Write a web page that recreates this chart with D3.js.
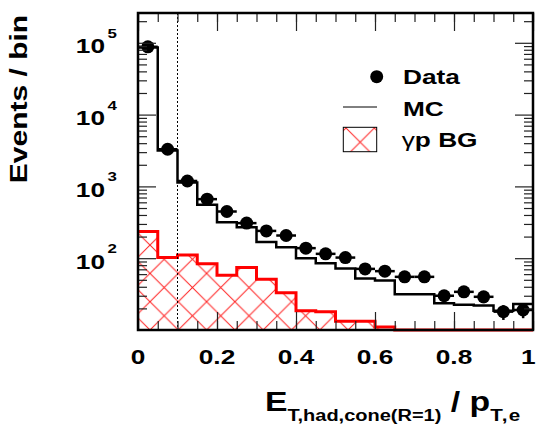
<!DOCTYPE html>
<html>
<head>
<meta charset="utf-8">
<script src="https://cdn.jsdelivr.net/npm/d3@7"></script>
<style>
  html, body { margin: 0; padding: 0; background: #fff; }
  svg { display: block; }
  text { font-family: "Liberation Sans", Arial, Helvetica, sans-serif; font-weight: bold; fill: #000; white-space: pre; }
</style>
</head>
<body>
<svg id="chart" width="536" height="427"></svg>
<script>
// Histogram bins (lower edges), width 0.05
const binLow = [0, 0.05, 0.1, 0.15, 0.2, 0.25, 0.3, 0.35, 0.4, 0.45,
                0.5, 0.55, 0.6, 0.65, 0.7, 0.75, 0.8, 0.85, 0.9, 0.95];
const binWidth = 0.05;

// Measured events per bin
const dataCounts = [88000, 3290, 1190, 664, 447, 308, 240, 207, 138, 115,
                    102, 71, 66, 55, 55, 30, 34, 29, 18, 19];
const dataErrors = [300, 57, 34, 26, 21, 18, 15.5, 14.4, 11.7, 10.7,
                    10.1, 8.4, 8.1, 7.4, 7.4, 5.5, 5.8, 5.4, 4.2, 4.4];
// Simulation (MC) prediction
const mcCounts = [86300, 3150, 1130, 555, 316, 270, 168, 142, 100, 85,
                  72, 52, 49, 31.5, 31.5, 23.5, 22.5, 22, 18.5, 23];
// Photoproduction background
const bgCounts = [235, 102, 111, 84, 58, 74, 51, 33, 18.5, 18,
                  13.2, 13.2, 11, 10, 10, 10, 10, 10, 10, 10];

const xTickValues = [0, 0.2, 0.4, 0.6, 0.8, 1];
const xTickLabels = ["0", "0.2", "0.4", "0.6", "0.8", "1"];
const yTickValues = [1e2, 1e3, 1e4, 1e5];
const yTickExponents = ["2", "3", "4", "5"];
const cutValue = 0.1;

const legendLabels = ["Data", "MC", "p BG"];

// ---- layout ----
const W = 536;
const L = 138, R = 533, T = 13, B = 330;
const SX = 1.25; // horizontal text stretch
const svg = d3.select("#chart");

const x = d3.scaleLinear().domain([0, 1]).range([L, R]);
const y = d3.scaleLog().domain([10, 2.6e5]).range([B, T]);

function label(parent, px, py, str, size, anchor) {
  return parent.append("text")
    .attr("transform", `translate(${px},${py}) scale(${SX},1)`)
    .attr("text-anchor", anchor || "start")
    .attr("font-size", size)
    .text(str);
}

// step outline of a histogram
function stepPoints(values) {
  const pts = [];
  values.forEach((v, i) => {
    pts.push([binLow[i], v]);
    pts.push([binLow[i] + binWidth, v]);
  });
  return pts;
}
const stepLine = d3.line().x(d => x(d[0])).y(d => y(Math.max(d[1], 10)));

// cross-hatch fill pattern
const defs = svg.append("defs");
function hatchPattern(id, ox, oy, d) {
  const p = defs.append("pattern").attr("id", id)
    .attr("patternUnits", "userSpaceOnUse")
    .attr("x", ox).attr("y", oy).attr("width", d).attr("height", d);
  p.append("path")
    .attr("d", `M0,0L${d},${d}M${d},0L0,${d}`)
    .attr("stroke", "#ff2020").attr("stroke-width", 1).attr("fill", "none");
}
hatchPattern("hatchMain", 150, 330, 28.3);
hatchPattern("hatchLegend", 346, 128, 28.3);

// ---- background histogram (hatched) ----
const bgPts = stepPoints(bgCounts);
const bgArea = d3.area().x(d => x(d[0])).y0(B).y1(d => y(Math.max(d[1], 10)));
svg.append("path").attr("d", bgArea(bgPts)).attr("fill", "url(#hatchMain)");
svg.append("path").attr("d", stepLine(bgPts))
  .attr("fill", "none").attr("stroke", "#ff0000").attr("stroke-width", 3);

// ---- cut position ----
svg.append("line")
  .attr("x1", x(cutValue)).attr("x2", x(cutValue))
  .attr("y1", T).attr("y2", B)
  .attr("stroke", "#000").attr("stroke-width", 1).attr("stroke-dasharray", "2,2");

// ---- MC histogram ----
svg.append("path").attr("d", stepLine(stepPoints(mcCounts)))
  .attr("fill", "none").attr("stroke", "#000").attr("stroke-width", 2.5);

// ---- data points ----
const pts = svg.append("g");
dataCounts.forEach((v, i) => {
  const cx = x(binLow[i] + binWidth / 2);
  pts.append("line")
    .attr("x1", x(binLow[i])).attr("x2", x(binLow[i] + binWidth))
    .attr("y1", y(v)).attr("y2", y(v))
    .attr("stroke", "#000").attr("stroke-width", 2.5);
  pts.append("line")
    .attr("x1", cx).attr("x2", cx)
    .attr("y1", y(v - dataErrors[i])).attr("y2", y(v + dataErrors[i]))
    .attr("stroke", "#000").attr("stroke-width", 2.5);
  pts.append("circle").attr("cx", cx).attr("cy", y(v)).attr("r", 6.5).attr("fill", "#000");
});

// ---- axes (inward ticks on all four sides) ----
const xMinor = d3.range(0, 1.0001, 0.05);
const yMinor = [];
for (let e = 1; e <= 5; e++) for (let m = 2; m <= 9; m++) {
  const v = m * Math.pow(10, e);
  if (v < 2.6e5) yMinor.push(v);
}
function axisGroup(axis, tx, ty) {
  const g = svg.append("g").attr("transform", `translate(${tx},${ty})`).call(axis);
  g.select(".domain").remove();
  g.selectAll(".tick line").attr("stroke", "#222").attr("stroke-width", 1.2);
  g.selectAll(".tick text").remove();
  return g;
}
axisGroup(d3.axisBottom(x).tickValues(xMinor).tickSize(-9), 0, B);
axisGroup(d3.axisBottom(x).tickValues(xTickValues).tickSize(-18), 0, B);
axisGroup(d3.axisTop(x).tickValues(xMinor).tickSize(-9), 0, T);
axisGroup(d3.axisTop(x).tickValues(xTickValues).tickSize(-18), 0, T);
axisGroup(d3.axisLeft(y).tickValues(yMinor).tickSize(-9), L, 0);
axisGroup(d3.axisLeft(y).tickValues(yTickValues).tickSize(-18), L, 0);
axisGroup(d3.axisRight(y).tickValues(yMinor).tickSize(-9), R, 0);
axisGroup(d3.axisRight(y).tickValues(yTickValues).tickSize(-18), R, 0);

// frame
svg.append("rect").attr("x", L).attr("y", T).attr("width", R - L).attr("height", B - T)
  .attr("fill", "none").attr("stroke", "#000").attr("stroke-width", 2.5);

// tick labels (kept inside the canvas at the right edge)
xTickValues.forEach((v, i) => {
  const t = label(svg, x(v), 364, xTickLabels[i], 21, "middle");
  const half = t.node().getBBox().width * SX / 2;
  const px = Math.min(x(v), W - 0.5 - half);
  t.attr("transform", `translate(${px},364) scale(${SX},1)`);
});
yTickValues.forEach((v, i) => {
  label(svg, 105, y(v) + 10.5, "10", 21, "end");
  label(svg, 107.5, y(v) - 5, yTickExponents[i], 13.5, "start");
});

// axis titles
svg.append("text")
  .attr("transform", `translate(27,99) rotate(-90) scale(${SX},1)`)
  .attr("text-anchor", "middle").attr("font-size", 24)
  .text("Events / bin");

const xt = svg.append("text")
  .attr("transform", `translate(265,411) scale(${SX},1)`)
  .attr("font-size", 27);
xt.append("tspan").text("E");
xt.append("tspan").attr("font-size", 16).attr("dy", 9.5).text("T,had,cone(R=1)");
xt.append("tspan").attr("font-size", 27).attr("dy", -9.5).text(" / p");
xt.append("tspan").attr("font-size", 16.5).attr("dy", 9.5).attr("letter-spacing", 1).text("T,e");

// ---- legend ----
const lg = svg.append("g");
lg.append("circle").attr("cx", 376.7).attr("cy", 76.7).attr("r", 6.5).attr("fill", "#000");
label(lg, 403, 84, legendLabels[0], 21, "start");
lg.append("line").attr("x1", 343).attr("x2", 377).attr("y1", 107).attr("y2", 107)
  .attr("stroke", "#000").attr("stroke-width", 1);
label(lg, 403, 116, legendLabels[1], 21, "start");
lg.append("rect").attr("x", 343.3).attr("y", 127.3).attr("width", 33.4).attr("height", 24.4)
  .attr("fill", "url(#hatchLegend)").attr("stroke", "#000").attr("stroke-width", 1);
const bgLabel = label(lg, 401.7, 147, "", 21, "start");
bgLabel.append("tspan").attr("font-weight", "normal").text("γ");
bgLabel.append("tspan").text(legendLabels[2]);
</script>
</body>
</html>
